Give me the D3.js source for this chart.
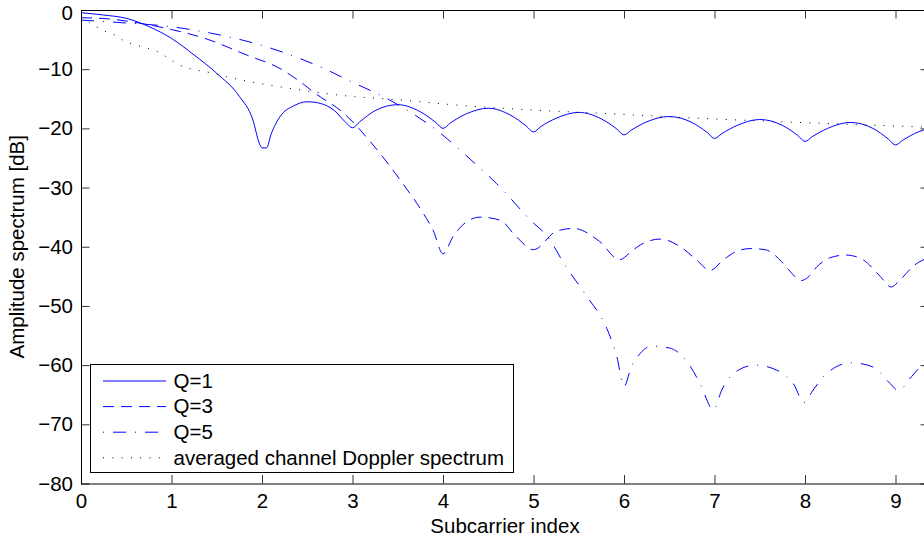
<!DOCTYPE html>
<html>
<head>
<meta charset="utf-8">
<script src="https://cdn.jsdelivr.net/npm/d3@7"></script>
<style>
body { margin: 0; background: #fff; }
svg { display: block; font-family: "Liberation Sans", Arial, Helvetica, sans-serif; }
</style>
</head>
<body>
<div id="chart"></div>
<script>
var width = 924;
var height = 540;

// Q=1 (solid)
var q1X = [0, 0.25, 0.5, 0.75, 1, 1.25, 1.5, 1.75, 1.9, 1.97, 2.0, 2.05, 2.1, 2.2, 2.35, 2.5, 2.65, 2.8, 2.92, 3.0, 3.08, 3.25, 3.5, 3.75, 3.92, 4.0, 4.08, 4.25, 4.5, 4.75, 4.92, 5.0, 5.08, 5.25, 5.5, 5.75, 5.92, 6.0, 6.08, 6.25, 6.5, 6.75, 6.92, 7.0, 7.08, 7.25, 7.5, 7.75, 7.92, 8.0, 8.08, 8.25, 8.5, 8.75, 8.92, 9.0, 9.08, 9.25, 9.37];
var q1Y = [-0.45, -0.85, -1.4, -2.8, -4.8, -7.6, -10.7, -14.6, -18.6, -22.5, -23.3, -23.3, -21.0, -18.0, -16.2, -15.5, -15.8, -17.0, -18.9, -19.9, -18.9, -17.0, -16.0, -17.2, -19.0, -20.0, -19.1, -17.6, -16.6, -17.8, -19.6, -20.6, -19.7, -18.3, -17.3, -18.4, -20.1, -21.1, -20.3, -18.9, -18.0, -19.0, -20.7, -21.7, -20.9, -19.5, -18.5, -19.5, -21.2, -22.2, -21.4, -20.0, -19.0, -20.0, -21.8, -22.8, -22.0, -20.6, -20.0];

// Q=3 (dashed)
var q3X = [0, 0.3, 0.64, 1.0, 1.37, 1.83, 2.2, 2.42, 2.59, 2.9, 3.2, 3.54, 3.78, 3.89, 4.0, 4.11, 4.26, 4.41, 4.63, 4.81, 5.0, 5.25, 5.44, 5.73, 5.95, 6.08, 6.18, 6.4, 6.65, 6.8, 6.95, 7.1, 7.24, 7.4, 7.56, 7.74, 7.82, 7.96, 8.03, 8.13, 8.27, 8.45, 8.64, 8.83, 8.95, 9.05, 9.21, 9.37];
var q3Y = [-1.3, -1.5, -2.2, -3.3, -4.8, -7.6, -9.9, -12.1, -14.1, -17.4, -22.3, -29.0, -34.3, -37.2, -41.2, -38.3, -35.8, -35.0, -35.5, -38.3, -40.5, -37.4, -36.9, -39.1, -42.2, -40.8, -39.7, -38.7, -40.3, -42.2, -44.0, -42.2, -40.8, -40.3, -40.5, -42.5, -43.9, -45.7, -45.2, -43.4, -41.9, -41.4, -42.2, -45.0, -46.8, -45.6, -43.1, -41.8];

// Q=5 (dash-dot)
var q5X = [0, 0.5, 0.93, 1.43, 1.98, 2.42, 2.7, 3.0, 3.41, 3.97, 4.3, 4.59, 5.0, 5.14, 5.36, 5.59, 5.81, 5.92, 6.0, 6.08, 6.18, 6.3, 6.5, 6.71, 6.84, 6.99, 7.08, 7.21, 7.45, 7.72, 7.87, 7.99, 8.09, 8.24, 8.51, 8.75, 8.94, 9.03, 9.18, 9.29, 9.37];
var q5Y = [-1.7, -2.2, -2.7, -3.9, -5.9, -8.2, -10.0, -12.2, -15.2, -20.8, -25.2, -29.3, -36.0, -38.0, -43.4, -48.4, -53.8, -58.5, -63.6, -60.3, -58.0, -56.8, -57.1, -59.7, -63.1, -67.6, -64.2, -61.4, -60.0, -61.1, -63.1, -66.3, -64.2, -61.4, -59.6, -60.3, -63.1, -64.3, -61.9, -60.1, -59.5];

// averaged channel Doppler spectrum (dotted)
var avgX = [0, 0.1, 0.19, 0.28, 0.38, 0.46, 0.56, 0.84, 1.09, 1.46, 1.76, 2.01, 2.42, 2.86, 3.52, 4.26, 5.0, 5.95, 6.84, 7.94, 9.37];
var avgY = [-1.2, -2.2, -3.0, -3.7, -4.3, -5.1, -5.7, -7.0, -9.3, -10.7, -11.8, -12.5, -13.5, -14.4, -15.2, -16.2, -16.9, -17.6, -18.3, -19.0, -19.8];

var xTicks = [0, 1, 2, 3, 4, 5, 6, 7, 8, 9];
var yTicks = [0, -10, -20, -30, -40, -50, -60, -70, -80];
var legendLabels = ["Q=1", "Q=3", "Q=5", "averaged channel Doppler spectrum"];

var plotLeft = 81, plotTop = 10, plotRight = 929, plotBottom = 483.5;
var tickLen = 8.5;

var x = d3.scaleLinear().domain([0, 9.37]).range([plotLeft, plotRight]);
var y = d3.scaleLinear().domain([-80, 0]).range([plotBottom, plotTop]);

var svg = d3.select("#chart")
  .append("svg")
  .attr("width", width)
  .attr("height", height)
  .style("font-size", "20.5px");

svg.append("rect")
  .attr("width", width)
  .attr("height", height)
  .attr("fill", "white");

svg.append("defs").append("clipPath")
  .attr("id", "plotclip")
  .append("rect")
  .attr("x", plotLeft)
  .attr("y", plotTop)
  .attr("width", plotRight - plotLeft)
  .attr("height", plotBottom - plotTop);

// series
var series = [
  { xs: q1X, ys: q1Y, color: "#0000ff", dash: null },
  { xs: q3X, ys: q3Y, color: "#0000ff", dash: "11,7" },
  { xs: q5X, ys: q5Y, color: "#0000ff", dash: "13,9,1,9" },
  { xs: avgX, ys: avgY, color: "#000000", dash: "1,8.3" }
];

var line = d3.line()
  .x(function(d) { return x(d[0]); })
  .y(function(d) { return y(d[1]); })
  .curve(d3.curveMonotoneX);

svg.append("g")
  .attr("clip-path", "url(#plotclip)")
  .selectAll("path")
  .data(series)
  .enter()
  .append("path")
  .attr("d", function(s) { return line(d3.zip(s.xs, s.ys)); })
  .attr("fill", "none")
  .attr("stroke", function(s) { return s.color; })
  .attr("stroke-width", 1)
  .attr("stroke-dasharray", function(s) { return s.dash; });

// axes (ticks inward, box around)
var xAxis = d3.axisBottom(x).tickValues(xTicks).tickFormat(d3.format("d"))
  .tickSizeInner(-tickLen).tickSizeOuter(0).tickPadding(10);
var yAxis = d3.axisLeft(y).tickValues(yTicks).tickFormat(d3.format("d"))
  .tickSizeInner(-tickLen).tickSizeOuter(0).tickPadding(8);

svg.append("g").attr("transform", "translate(0," + plotBottom + ")").call(xAxis);
var gy = svg.append("g").attr("transform", "translate(" + plotLeft + ",0)").call(yAxis);
svg.append("g").attr("transform", "translate(0," + plotTop + ")")
  .call(d3.axisTop(x).tickValues(xTicks).tickFormat("").tickSizeInner(-tickLen).tickSizeOuter(0));
svg.append("g").attr("transform", "translate(" + plotRight + ",0)")
  .call(d3.axisRight(y).tickValues(yTicks).tickFormat("").tickSizeInner(-tickLen).tickSizeOuter(0));

svg.selectAll(".domain").remove();
svg.selectAll(".tick line").attr("stroke", "#333");
svg.selectAll(".tick text").attr("fill", "#000").style("font-size", "20.5px")
  .style("font-family", "'Liberation Sans', Arial, sans-serif");

// the top "0" label sits a little lower so it is not cut at the edge
gy.selectAll(".tick text").filter(function(d) { return d === 0; }).attr("y", 3);

svg.append("rect")
  .attr("x", plotLeft + 0.5)
  .attr("y", plotTop + 0.5)
  .attr("width", plotRight - plotLeft)
  .attr("height", plotBottom - plotTop)
  .attr("fill", "none")
  .attr("stroke", "#000")
  .attr("stroke-width", 1);

// axis labels
svg.append("text")
  .attr("x", (plotLeft + plotRight) / 2)
  .attr("y", 533)
  .attr("text-anchor", "middle")
  .text("Subcarrier index");

svg.append("text")
  .attr("transform", "translate(24," + ((plotTop + plotBottom) / 2) + ") rotate(-90)")
  .attr("text-anchor", "middle")
  .text("Amplitude spectrum [dB]");

// legend
var legend = svg.append("g");
legend.append("rect")
  .attr("x", 90.5)
  .attr("y", 364.5)
  .attr("width", 423)
  .attr("height", 108)
  .attr("fill", "white")
  .attr("stroke", "#000")
  .attr("stroke-width", 1);

var rows = legend.selectAll("g.row")
  .data(series)
  .enter()
  .append("g")
  .attr("class", "row")
  .attr("transform", function(d, i) { return "translate(0," + (380.5 + i * 25.6) + ")"; });

rows.append("line")
  .attr("x1", 103)
  .attr("x2", 166)
  .attr("y1", 0.5)
  .attr("y2", 0.5)
  .attr("stroke", function(s) { return s.color; })
  .attr("stroke-width", 1)
  .attr("stroke-dasharray", function(s, i) { return i == 2 ? "1,9,13,9" : s.dash; });

rows.append("text")
  .attr("x", 173.5)
  .attr("dy", "0.36em")
  .text(function(d, i) { return legendLabels[i]; });
</script>
</body>
</html>
